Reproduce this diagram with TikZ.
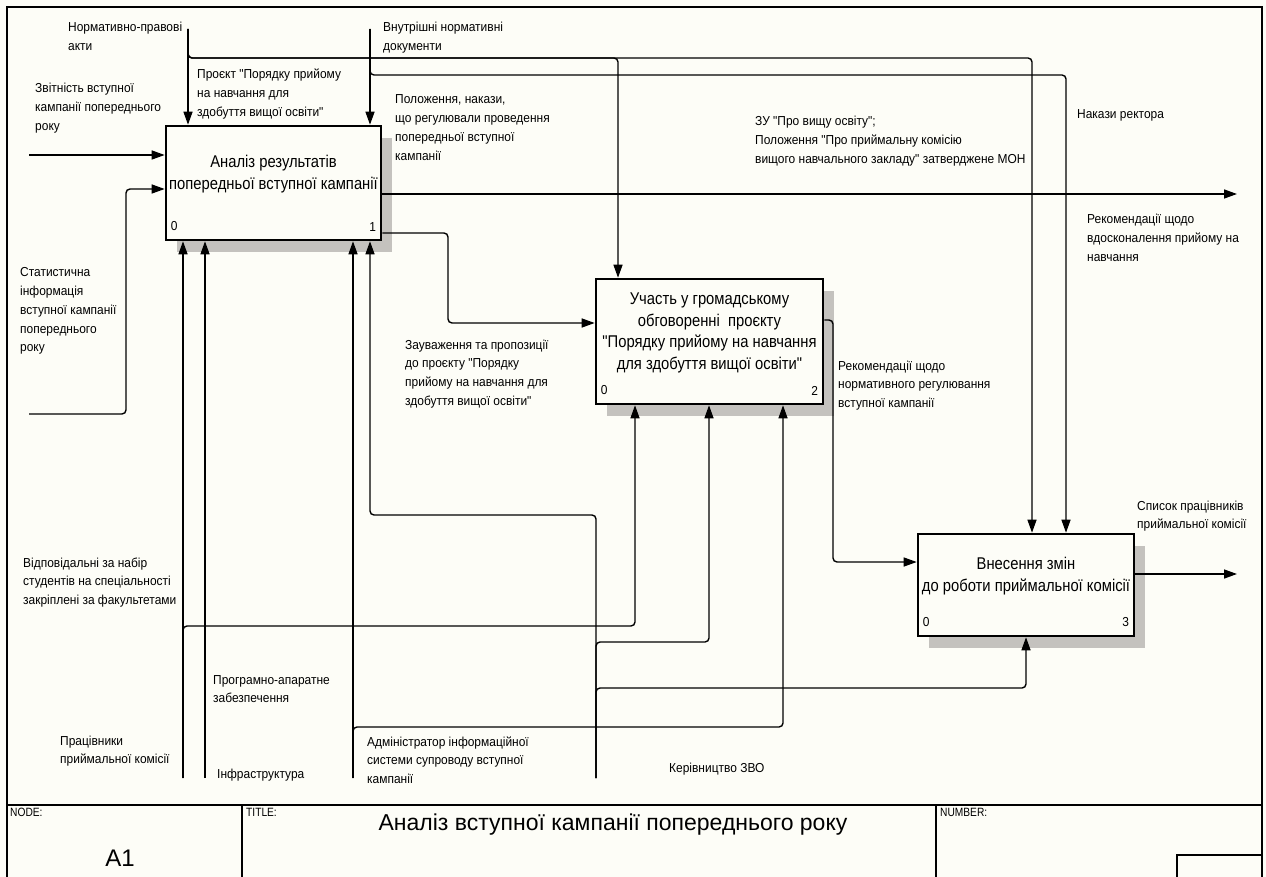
\documentclass[tikz,border=0pt]{standalone}
\usepackage{fontspec}
\setmainfont{Liberation Sans}
\newfontfamily\labfont[FakeStretch=0.92]{Liberation Sans}
\newfontfamily\boxfont[FakeStretch=0.87]{Liberation Sans}
\newfontfamily\smallfont[FakeStretch=0.85]{Liberation Sans}
\usetikzlibrary{arrows.meta,shadows}
\definecolor{paper}{RGB}{253,253,247}
\definecolor{shade}{RGB}{196,194,190}
\begin{document}
\begin{tikzpicture}[x=1pt,y=-1pt,
  con/.style={line width=1.4pt, rounded corners=4pt},
  arr/.style={con, -{Triangle[length=13pt,width=9pt]}},
  fn/.style={draw, line width=2.6pt, fill=paper, inner sep=0pt, align=center,
    font=\boxfont\fontsize{17}{21.5}\selectfont,
    drop shadow={shadow xshift=11pt, shadow yshift=-12pt, fill=shade, opacity=1}},
  lab/.style={inner sep=0pt, align=left, anchor=base west,
    font=\labfont\fontsize{13}{18.7}\selectfont},
  num/.style={inner sep=0pt, font=\labfont\fontsize{13}{15}\selectfont},
  frame/.style={line width=1.2pt},
  fhead/.style={inner sep=0pt, anchor=north west, font=\smallfont\fontsize{12}{13}\selectfont}
]
\useasboundingbox (0,0) rectangle (1266,877);
\fill[paper] (0,0) rectangle (1266,877);

% outer frame and footer
\draw[frame] (7,880) -- (7,7) -- (1262,7) -- (1262,880);
\draw[frame] (7,805) -- (1262,805);
\draw[frame] (242,805) -- (242,880);
\draw[frame] (936,805) -- (936,880);
\draw[frame] (1177,880) -- (1177,855) -- (1262,855);
\node[fhead] (fnode) at (10,808) {NODE:};
\node[fhead] (ftitle) at (246,808) {TITLE:};
\node[fhead] (fnum) at (940,808) {NUMBER:};
\node[inner sep=0pt, font=\fontsize{24}{26}\selectfont] (fa1) at (120,858) {A1};
\node[inner sep=0pt, font=\fontsize{23}{26}\selectfont] (fname) at (613,825) {Аналіз вступної кампанії попереднього року};

% activity boxes
\node[fn, minimum width=215pt, minimum height=114pt] (b1) at (273.5,183)
  {Аналіз результатів\\попередньої вступної кампанії\\[-7pt]\strut};
\node[fn, minimum width=227pt, minimum height=125pt] (b2) at (709.5,341.5)
  {Участь у громадському\\обговоренні\ \ проєкту\\"Порядку прийому на навчання\\для здобуття вищої освіти"\\[-7pt]\strut};
\node[fn, minimum width=216pt, minimum height=102pt] (b3) at (1026,585)
  {Внесення змін\\до роботи приймальної комісії\\[-7pt]\strut};

\node[num, anchor=south west] (b1n0) at ([shift={(6,-10)}]b1.south west) {0};
\node[num, anchor=south east] (b1n1) at ([shift={(-6,-10)}]b1.south east) {1};
\node[num, anchor=south west] (b2n0) at ([shift={(6,-10)}]b2.south west) {0};
\node[num, anchor=south east] (b2n2) at ([shift={(-6,-10)}]b2.south east) {2};
\node[num, anchor=south west] (b3n0) at ([shift={(6,-10)}]b3.south west) {0};
\node[num, anchor=south east] (b3n3) at ([shift={(-6,-10)}]b3.south east) {3};

% free ends of the boundary arrows
\coordinate (nra) at (188,29);
\coordinate (vnd) at (370,29);
\coordinate (zvit) at (29,155);
\coordinate (stat) at (29,414);
\coordinate (out1) at (1237,194);
\coordinate (out3) at (1237,574);
\coordinate (prac) at (183,778);
\coordinate (infr) at (205,778);
\coordinate (adm) at (353,778);
\coordinate (kerv) at (596,778);

% controls
\draw[arr] (nra) -- (nra |- b1.north);
\draw[arr] (nra) -- (188,58) -- (618,58) -- (618,0 |- b2.north);
\draw[arr] (nra) -- (188,58) -- (1032,58) -- (1032,0 |- b3.north);
\draw[arr] (vnd) -- (vnd |- b1.north);
\draw[arr] (vnd) -- (370,75) -- (1066,75) -- (1066,0 |- b3.north);

% inputs
\draw[arr] (zvit) -- (zvit -| b1.west);
\draw[arr] (stat) -- (126,414) -- (126,189) -- (b1.west |- 0,189);

% outputs
\draw[arr] (b1.east |- 0,194) -- (out1);
\draw[arr] (b1.east |- 0,233) -- (448,233) -- (448,323) -- (b2.west |- 0,323);
\draw[arr] (b2.east |- 0,320) -- (833,320) -- (833,562) -- (b3.west |- 0,562);
\draw[arr] (b3.east |- out3) -- (out3);

% mechanisms
\draw[arr] (prac) -- (prac |- b1.south);
\draw[arr] (prac) -- (183,626) -- (635,626) -- (635,0 |- b2.south);
\draw[arr] (infr) -- (infr |- b1.south);
\draw[arr] (adm) -- (adm |- b1.south);
\draw[arr] (adm) -- (353,727) -- (783,727) -- (783,0 |- b2.south);
\draw[arr] (kerv) -- (596,515) -- (370,515) -- (370,0 |- b1.south);
\draw[arr] (kerv) -- (596,642) -- (709,642) -- (709,0 |- b2.south);
\draw[arr] (kerv) -- (596,688) -- (1026,688) -- (1026,0 |- b3.south);

% arrow labels (anchored at the baseline of the last line)
\node[lab] (l1) at (68,50.7) {Нормативно-правові\\акти};
\node[lab] (l2) at (383,50.7) {Внутрішні нормативні\\документи};
\node[lab] (l3) at (197,116.4) {Проєкт "Порядку прийому\\на навчання для\\здобуття вищої освіти"};
\node[lab] (l4) at (35,130.4) {Звітність вступної\\кампанії попереднього\\року};
\node[lab] (l5) at (395,160.1) {Положення, накази,\\що регулювали проведення\\попередньої вступної\\кампанії};
\node[lab] (l6) at (755,163.4) {ЗУ "Про вищу освіту";\\Положення "Про приймальну комісію\\вищого навчального закладу" затверджене МОН};
\node[lab] (l7) at (1077,119) {Накази ректора};
\node[lab] (l8) at (1087,261.4) {Рекомендації щодо\\вдосконалення прийому на\\навчання};
\node[lab] (l9) at (20,351.8) {Статистична\\інформація\\вступної кампанії\\попереднього\\року};
\node[lab] (l10) at (405,405.1) {Зауваження та пропозиції\\до проєкту "Порядку\\прийому на навчання для\\здобуття вищої освіти"};
\node[lab] (l11) at (838,407.4) {Рекомендації щодо\\нормативного регулювання\\вступної кампанії};
\node[lab] (l12) at (1137,528.7) {Список працівників\\приймальної комісії};
\node[lab] (l13) at (23,604.4) {Відповідальні за набір\\студентів на спеціальності\\закріплені за факультетами};
\node[lab] (l14) at (213,702.7) {Програмно-апаратне\\забезпечення};
\node[lab] (l15) at (60,763.7) {Працівники\\приймальної комісії};
\node[lab] (l16) at (217,778) {Інфраструктура};
\node[lab] (l17) at (367,783.4) {Адміністратор інформаційної\\системи супроводу вступної\\кампанії};
\node[lab] (l18) at (669,772) {Керівництво ЗВО};
\end{tikzpicture}
\end{document}
